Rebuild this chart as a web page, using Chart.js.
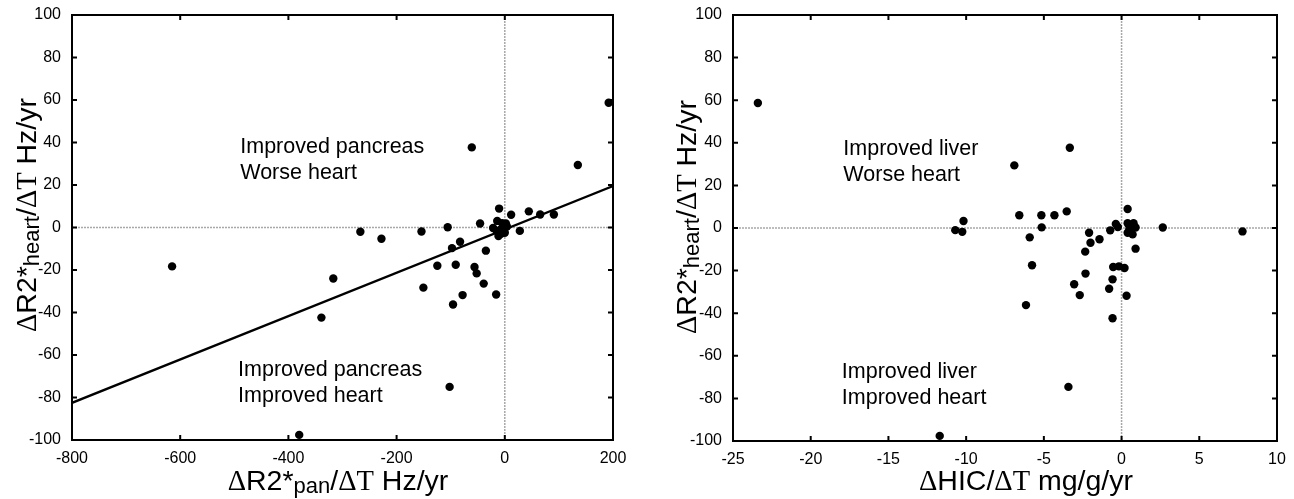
<!DOCTYPE html>
<html>
<head>
<meta charset="utf-8">
<script src="https://cdn.jsdelivr.net/npm/chart.js@4.4.0/dist/chart.umd.min.js"></script>
<style>
body { margin: 0; background: #fff; }
#wrap { position: relative; width: 1294px; height: 499px; }
canvas { position: absolute; top: 0; }
</style>
</head>
<body>
<div id="wrap">
  <canvas id="left" width="647" height="499" style="left:0"></canvas>
  <canvas id="right" width="647" height="499" style="left:647px"></canvas>
</div>
<script>
// heart change (y) shared by both panels
var panX = [-615, -380, -339, -317, -267, -228, -154, -150.5, -102, -61, 192, 135, -105.6, -45.7, -10.5, 11.7, 44.4, 65.4, 90.7, 27.8,
            -14, -21.6, 2, -3, -11.7, 0, -9, -15, 4, -5, -7, -82.7, -97.6, -35, -124.7, -90.7, -56, -52, -39, -78, -16, -95.7];
var panY = [-18.3, -97.6, -42.4, -24, -2, -5.3, -1.9, -28.3, -75, 37.7, 58.7, 29.4, 0.1, 1.9, 8.9, 6, 7.6, 6.1, 6.1, -1.6,
            3.1, -0.2, 1.9, -0.6, -4, -2.5, -1.2, -1.6, 0.5, 2, -3, -6.7, -9.7, -10.9, -18, -17.5, -18.6, -21.6, -26.4, -31.8, -31.5, -36.2];

var hicX = [-23.4, -3.33, -6.9, -6.58, -5.16, -4.32, -3.53, -5.14, -5.91, -5.76, -6.15, -2.09, -2.0, -1.42, -2.34, -2.32, -3.05, -2.69,
            -0.73, -0.37, -0.24, 0.39, 0.39, 0.77, 0.9, 0.39, 0.71, 0.5, 0.9, 2.65, 7.78, -0.54, -0.17, 0.19, -0.58, -0.8, 0.32, -0.58,
            -10.17, -10.7, -10.25, -11.7, -3.42];
var hicY = [58.7, 37.7, 29.4, 6, 6, 6, 7.8, 0.3, -4.4, -17.5, -36.2, -2.2, -6.9, -5.3, -11.1, -21.4, -26.4, -31.5,
            -1.1, 1.9, 0.5, 8.9, 2.2, 2.2, 0.2, -2.2, -3, -0.5, -9.7, 0.2, -1.6, -18.3, -18, -18.8, -24.1, -28.5, -31.8, -42.4,
            3.3, -1.0, -1.8, -97.6, -74.6];

// regression line on the pancreas panel
var fitX = [-800, 200];
var fitY = [-82.5, 19.5];

var yTicks = [-100, -80, -60, -40, -20, 0, 20, 40, 60, 80, 100];
var panTicks = [-800, -600, -400, -200, 0, 200];
var hicTicks = [-25, -20, -15, -10, -5, 0, 5, 10];

var SANS = 'Liberation Sans';
var SERIF = 'Liberation Serif';

function toPoints(xs, ys) {
  var result = [];
  for (var i = 0; i < xs.length; i++) {
    result.push({ x: xs[i], y: ys[i] });
  }
  return result;
}

function drawRich(ctx, parts, x, y, rot) {
  ctx.save();
  ctx.translate(x, y);
  if (rot) ctx.rotate(-Math.PI / 2);
  var w = 0;
  parts.forEach(function (p) {
    ctx.font = p[2] + 'px "' + p[1] + '"';
    w += ctx.measureText(p[0]).width;
  });
  var cx = -w / 2;
  ctx.fillStyle = '#000';
  ctx.textBaseline = 'alphabetic';
  ctx.textAlign = 'left';
  parts.forEach(function (p) {
    ctx.font = p[2] + 'px "' + p[1] + '"';
    ctx.fillText(p[0], cx, p[3] || 0);
    cx += ctx.measureText(p[0]).width;
  });
  ctx.restore();
}

var framePlugin = {
  id: 'frame',
  beforeDatasetsDraw: function (chart) {
    var ctx = chart.ctx, a = chart.chartArea;
    var x0 = chart.scales.x.getPixelForValue(0);
    var y0 = chart.scales.y.getPixelForValue(0);
    ctx.save();
    ctx.strokeStyle = '#a8a8a8';
    ctx.lineWidth = 1.5;
    ctx.setLineDash([2, 1]);
    ctx.beginPath();
    ctx.moveTo(a.left, y0); ctx.lineTo(a.right, y0);
    ctx.moveTo(x0, a.top); ctx.lineTo(x0, a.bottom);
    ctx.stroke();
    ctx.restore();
  },
  afterDraw: function (chart, args, opts) {
    var ctx = chart.ctx, a = chart.chartArea;
    var sx = chart.scales.x, sy = chart.scales.y;
    ctx.save();
    ctx.strokeStyle = '#000';
    ctx.lineWidth = 2;
    ctx.beginPath();
    ctx.rect(a.left, a.top, a.right - a.left, a.bottom - a.top);
    // inward ticks on all four sides
    sx.ticks.forEach(function (t) {
      var px = sx.getPixelForValue(t.value);
      ctx.moveTo(px, a.bottom); ctx.lineTo(px, a.bottom - 5);
      ctx.moveTo(px, a.top); ctx.lineTo(px, a.top + 5);
    });
    sy.ticks.forEach(function (t) {
      var py = sy.getPixelForValue(t.value);
      ctx.moveTo(a.left, py); ctx.lineTo(a.left + 5, py);
      ctx.moveTo(a.right, py); ctx.lineTo(a.right - 5, py);
    });
    ctx.stroke();

    // quadrant notes
    ctx.fillStyle = '#000';
    ctx.font = '21.5px "' + SANS + '"';
    ctx.textAlign = 'left';
    opts.notes.forEach(function (n) {
      var px = sx.getPixelForValue(n.x), py = sy.getPixelForValue(n.y);
      ctx.fillText(n.lines[0], px, py);
      ctx.fillText(n.lines[1], px, py + 26);
    });
    ctx.restore();

    drawRich(ctx, opts.xTitle, opts.xTitlePos[0], opts.xTitlePos[1], false);
    drawRich(ctx, opts.yTitle, opts.yTitlePos[0], opts.yTitlePos[1], true);
  }
};

function makeChart(id, points, cfg) {
  var ctx = document.getElementById(id).getContext('2d');
  var datasets = [{
    type: 'scatter',
    data: points,
    pointRadius: 4.2,
    pointHoverRadius: 4.2,
    backgroundColor: '#000',
    borderWidth: 0
  }];
  if (cfg.line) {
    datasets.push({
      type: 'line',
      data: cfg.line,
      borderColor: '#000',
      borderWidth: 2.3,
      pointRadius: 0,
      fill: false
    });
  }
  var tickFont = { family: SANS, size: 16 };
  return new Chart(ctx, {
    type: 'scatter',
    data: { datasets: datasets },
    options: {
      responsive: false,
      animation: false,
      layout: { padding: { left: 0, right: cfg.padRight, top: 15, bottom: 0 } },
      plugins: {
        legend: { display: false },
        tooltip: { enabled: false },
        frame: cfg.frame
      },
      scales: {
        x: {
          type: 'linear', min: cfg.xTicks[0], max: cfg.xTicks[cfg.xTicks.length - 1],
          afterBuildTicks: function (s) { s.ticks = cfg.xTicks.map(function (v) { return { value: v }; }); },
          ticks: { color: '#000', font: tickFont, padding: 1, maxRotation: 0, autoSkip: false },
          grid: { display: false }, border: { display: false },
          afterFit: function (s) { s.height = cfg.xH; }
        },
        y: {
          type: 'linear', min: -100, max: 100,
          afterBuildTicks: function (s) { s.ticks = yTicks.map(function (v) { return { value: v }; }); },
          ticks: { color: '#000', font: tickFont, padding: 3, autoSkip: false },
          grid: { display: false }, border: { display: false },
          afterFit: function (s) { s.width = cfg.yW; }
        }
      }
    },
    plugins: [framePlugin]
  });
}

makeChart('left', toPoints(panX, panY), {
  xTicks: panTicks, xH: 59, yW: 72, padRight: 34,
  line: toPoints(fitX, fitY),
  frame: {
    notes: [
      { x: -489, y: 35, lines: ['Improved pancreas', 'Worse heart'] },
      { x: -493, y: -70, lines: ['Improved pancreas', 'Improved heart'] }
    ],
    xTitle: [['\u0394', SERIF, 28.5], ['R2*', SANS, 28.5], ['pan', SANS, 22, 3], ['/', SANS, 28.5], ['\u0394T', SERIF, 28.5], [' Hz/yr', SANS, 28.5]],
    xTitlePos: [338, 490],
    yTitle: [['\u0394', SERIF, 28.5], ['R2*', SANS, 28.5], ['heart', SANS, 22, 3], ['/', SANS, 28.5], ['\u0394T', SERIF, 28.5], [' Hz/yr', SANS, 28.5]],
    yTitlePos: [36, 215]
  }
});

makeChart('right', toPoints(hicX, hicY), {
  xTicks: hicTicks, xH: 58, yW: 86, padRight: 17,
  frame: {
    notes: [
      { x: -17.9, y: 34.3, lines: ['Improved liver', 'Worse heart'] },
      { x: -18, y: -70.4, lines: ['Improved liver', 'Improved heart'] }
    ],
    xTitle: [['\u0394', SERIF, 28.5], ['HIC/', SANS, 28.5], ['\u0394T', SERIF, 28.5], [' mg/g/yr', SANS, 28.5]],
    xTitlePos: [379, 490],
    yTitle: [['\u0394', SERIF, 28.5], ['R2*', SANS, 28.5], ['heart', SANS, 22, 3], ['/', SANS, 28.5], ['\u0394T', SERIF, 28.5], [' Hz/yr', SANS, 28.5]],
    yTitlePos: [49, 217]
  }
});
</script>
</body>
</html>
